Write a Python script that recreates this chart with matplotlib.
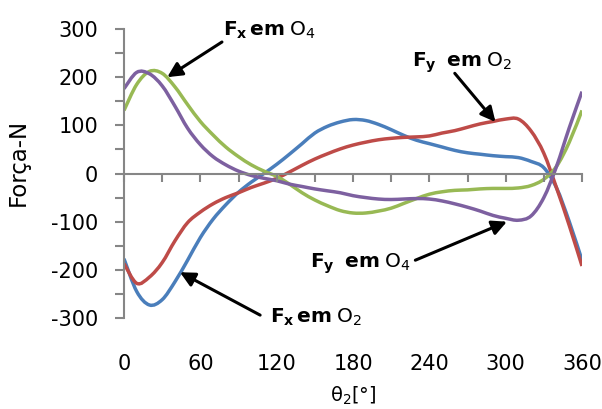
import numpy as np
import matplotlib
matplotlib.use("Agg")
import matplotlib.pyplot as plt
from matplotlib.path import Path
from matplotlib.patches import PathPatch
from matplotlib.ticker import MultipleLocator, FuncFormatter

size = 15

theta = np.arange(0, 361, 10)

fx_o2 = [-177, -245, -273, -262, -225, -180, -133, -95, -65, -39,
         -18, 0, 19, 40, 62, 84, 98, 107, 112, 110,
         102, 91, 79, 69, 62, 55, 48, 43, 40, 37,
         35, 33, 25, 12, -30, -100, -180]
fy_o2 = [-187, -228, -215, -185, -140, -102, -80, -63, -50, -40,
         -29, -20, -10, 3, 17, 30, 41, 51, 59, 65,
         70, 73, 75, 76, 78, 84, 89, 96, 103, 108,
         113, 113, 88, 42, -30, -108, -192]
fx_o4 = [131, 185, 212, 208, 180, 143, 108, 80, 55, 35,
         18, 5, -6, -22, -40, -55, -67, -77, -82, -82,
         -78, -72, -62, -52, -43, -38, -35, -34, -32, -31,
         -31, -30, -25, -12, 15, 65, 131]
fy_o4 = [176, 210, 207, 182, 140, 94, 60, 35, 18, 5,
         -4, -10, -15, -22, -27, -32, -36, -40, -46, -50,
         -53, -54, -53, -52, -53, -57, -63, -70, -78, -87,
         -93, -97, -88, -50, 15, 95, 170]

series = [fx_o2, fy_o2, fx_o4, fy_o4]
colors = ['#4a7ebb', '#be4b48', '#98b954', '#7d60a0']

# labels: text position, arrow tail, arrow head (data coords)
labels = [r'$\mathbf{F}_\mathbf{x}\,\mathbf{em}\;\mathrm{O}_4$',
          r'$\mathbf{F}_\mathbf{y}\;\;\mathbf{em}\;\mathrm{O}_2$',
          r'$\mathbf{F}_\mathbf{x}\,\mathbf{em}\;\mathrm{O}_2$',
          r'$\mathbf{F}_\mathbf{y}\;\;\mathbf{em}\;\mathrm{O}_4$']
label_pos = [(77.8, 287), (226, 221), (114.8, -310), (146, -196)]
arrow_tail = [(77, 273), (260, 208), (107, -294), (229, -180)]
arrow_head = [(34, 200), (292, 107), (44, -205), (301, -100)]


def smooth_path(x, y):
    # excel style smoothed line: cubic bezier through the points
    p = np.column_stack([x, y]).astype(float)
    ext = np.vstack([p[0], p, p[-1]])
    verts = [p[0]]
    codes = [Path.MOVETO]
    for i in range(len(p) - 1):
        p0, p1, p2, p3 = ext[i], ext[i + 1], ext[i + 2], ext[i + 3]
        verts += [p1 + (p2 - p0) / 6.0, p2 - (p3 - p1) / 6.0, p2]
        codes += [Path.CURVE4] * 3
    return Path(verts, codes)


fig = plt.figure(figsize=(6.02, 4.09), dpi=100)
ax = fig.add_axes([124/602, 91/409, 458/602, 289/409])

for s, c in zip(series, colors):
    ax.add_patch(PathPatch(smooth_path(theta, s), facecolor='none',
                           edgecolor=c, lw=2.5, capstyle='butt'))

ax.set_xlim(0, 360)
ax.set_ylim(-300, 300)

ax.spines['top'].set_visible(False)
ax.spines['right'].set_visible(False)
ax.spines['bottom'].set_position(('data', 0))
for sp in ['left', 'bottom']:
    ax.spines[sp].set_color('#868686')
    ax.spines[sp].set_linewidth(1.5)

ax.yaxis.set_major_locator(MultipleLocator(50))
ax.yaxis.set_major_formatter(FuncFormatter(lambda v, p: '%d' % v if v % 100 == 0 else ''))
ax.tick_params(axis='y', direction='out', length=6.5, width=1.5, color='#868686',
               labelsize=size, pad=12)

ax.xaxis.set_major_locator(MultipleLocator(30))
ax.tick_params(axis='x', direction='out', length=6, width=1.5, color='#868686',
               labelbottom=False)

sec = ax.secondary_xaxis(0.0)
sec.set_xticks(np.arange(0, 361, 60))
sec.spines['bottom'].set_visible(False)
sec.tick_params(length=0, pad=26, labelsize=size)
sec.set_xlabel(r'θ$_2$[°]', fontsize=14, labelpad=7.5)

ax.set_ylabel('Força-N', fontsize=16.5)
ax.yaxis.set_label_coords(-0.205, 0.54)

for lab, pos, tail, head in zip(labels, label_pos, arrow_tail, arrow_head):
    ax.text(pos[0], pos[1], lab, fontsize=14.5, ha='left', va='baseline')
    ax.annotate('', xy=head, xytext=tail,
                arrowprops=dict(arrowstyle='-|>', color='black', lw=2.2,
                                mutation_scale=22, shrinkA=0, shrinkB=0))

fig.savefig('out.png', dpi=100)
